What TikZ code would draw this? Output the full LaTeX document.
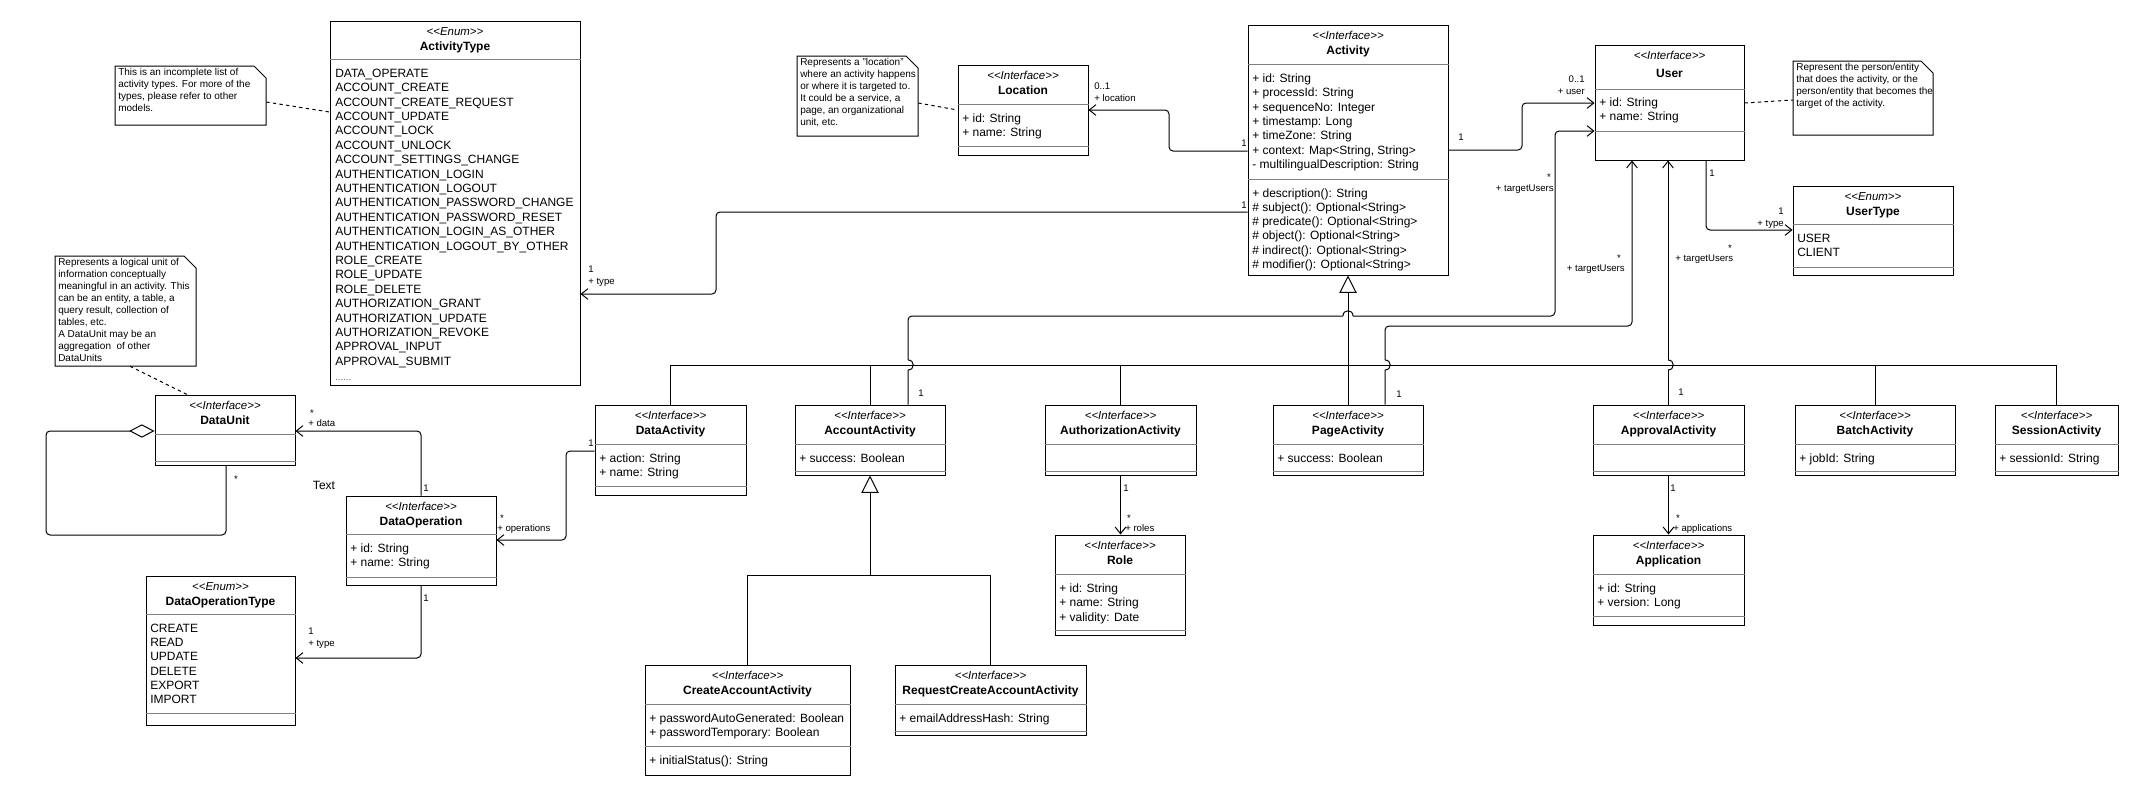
\documentclass[tikz,border=0pt]{standalone}
\usepackage{fontspec}
\setmainfont{Liberation Sans}
\usetikzlibrary{arrows.meta,fit}
\tikzset{
  box/.style={draw, line width=0.75pt, inner sep=0pt},
  sepl/.style={draw=black!50, line width=0.75pt},
  st/.style={font=\fontsize{8.6}{10}\selectfont\itshape, inner sep=0pt, anchor=base},
  nm/.style={font=\fontsize{9}{11}\selectfont\bfseries, inner sep=0pt, anchor=base},
  it/.style={font=\fontsize{9}{11}\selectfont, inner sep=0pt},
  nt/.style={font=\fontsize{7.5}{9}\selectfont, inner sep=0pt},
  lbl/.style={font=\fontsize{7.2}{8.6}\selectfont, inner sep=0pt},
  conn/.style={line width=0.75pt, rounded corners=3pt},
  arr/.style={-{Straight Barb[length=5pt,width=8pt]}},
  gen/.style={line width=0.75pt, -{Triangle[open,length=13pt,width=13pt]}},
  notelink/.style={line width=0.75pt, dash pattern=on 2.5pt off 2.5pt},
}
\newcommand\umlclsx[8]{%
  \node[box, fit={(#2,#3)(#4,#5)}] (#1) {};
  \node[st] (#1-st) at ({(#2+#4)/2},{#3+14.6}) {<{}<#6>{}>};
  \node[nm] (#1-nm) at ({(#2+#4)/2},{#3+29.3+#8}) {#7};}
\newcommand\umlcls[7]{\umlclsx{#1}{#2}{#3}{#4}{#5}{#6}{#7}{0}}
\newcommand\umlsep[2]{\draw[sepl] (#1.west |- 0,#2) -- (#1.east |- 0,#2);}
\newcommand\umllines[6]{\foreach \itm [count=\kk from 0] in {#6} {\node[#5, anchor=base west] (#1-\kk) at (#2,{#3+#4*\kk}) {\itm};}}
\newcommand\umlnote[5]{%
  \node[inner sep=0pt, fit={(#2,#3)(#4,#5)}] (#1) {};
  \draw[line width=0.75pt, fill=white] (#2,#3) -- ({#4-12},#3) -- (#4,{#3+12}) -- (#4,#5) -- (#2,#5) -- cycle;}
\newcommand\umlvhop[2]{%
  \draw[white, line width=2.5pt] (#1,{#2-5}) -- (#1,{#2+5});
  \draw[line width=0.75pt] (#1,{#2+5}) .. controls ({#1+7},{#2+5}) and ({#1+7},{#2-5}) .. (#1,{#2-5});
  \draw[line width=0.75pt] ({#1-7},#2) -- ({#1+9},#2);}
\newcommand\umlhhop[2]{%
  \draw[white, line width=2.5pt] ({#1-5},#2) -- ({#1+5},#2);
  \draw[line width=0.75pt] ({#1-5},#2) .. controls ({#1-5},{#2-7}) and ({#1+5},{#2-7}) .. ({#1+5},#2);
  \draw[line width=0.75pt] (#1,{#2-9}) -- (#1,{#2+7});}
\begin{document}
\begin{tikzpicture}[x=0.75pt,y=-0.75pt]
\fill[white] (0,0) rectangle (2139,796);
\useasboundingbox (0,0) rectangle (2139,796);

% ---------- notes ----------
\umlnote{noteA}{115}{66}{266}{125}
\umllines{noteA}{118}{75.6}{12}{nt}{This is an incomplete list of, activity types. For more of the, {types, please refer to other}, models.}
\umlnote{noteD}{55}{256}{196}{366}
\umllines{noteD}{58}{265.6}{12}{nt}{Represents a logical unit of, information conceptually, meaningful in an activity. This, {can be an entity, a table, a}, {query result, collection of}, {tables, etc.}, A DataUnit may be an, aggregation\ \ of other, DataUnits}
\umlnote{noteL}{797}{56}{918}{136}
\umllines{noteL}{800}{65.6}{12}{nt}{Represents a "location", where an activity happens, or where it is targeted to., {It could be a service, a}, {page, an organizational}, {unit, etc.}}
\umlnote{noteU}{1793}{61}{1933}{135}
\umllines{noteU}{1796}{70.6}{12}{nt}{Represent the person/entity, {that does the activity, or the}, person/entity that becomes the, target of the activity.}

% ---------- classes ----------
\umlcls{ActivityType}{330}{21}{580}{385}{Enum}{ActivityType}
\umlsep{ActivityType}{59}
\umllines{ActivityType}{335}{77.3}{14.4}{it}{DATA\_OPERATE, ACCOUNT\_CREATE, ACCOUNT\_CREATE\_REQUEST, ACCOUNT\_UPDATE, ACCOUNT\_LOCK, ACCOUNT\_UNLOCK, ACCOUNT\_SETTINGS\_CHANGE, AUTHENTICATION\_LOGIN, AUTHENTICATION\_LOGOUT, AUTHENTICATION\_PASSWORD\_CHANGE, AUTHENTICATION\_PASSWORD\_RESET, AUTHENTICATION\_LOGIN\_AS\_OTHER, AUTHENTICATION\_LOGOUT\_BY\_OTHER, ROLE\_CREATE, ROLE\_UPDATE, ROLE\_DELETE, AUTHORIZATION\_GRANT, AUTHORIZATION\_UPDATE, AUTHORIZATION\_REVOKE, APPROVAL\_INPUT, APPROVAL\_SUBMIT}
\node[lbl, anchor=base west, text=black!60] (ActivityType-more) at (335,380) {......};

\umlcls{Location}{958}{65}{1088}{155}{Interface}{Location}
\umlsep{Location}{104}\umlsep{Location}{146}
\umllines{Location}{962}{122.3}{14.4}{it}{+ id: String, + name: String}

\umlcls{Activity}{1248}{25}{1448}{275}{Interface}{Activity}
\umlsep{Activity}{64}\umlsep{Activity}{179}
\umllines{Activity}{1252}{82.3}{14.4}{it}{+ id: String, + processId: String, + sequenceNo: Integer, + timestamp: Long, + timeZone: String, {+ context: Map<String, String>}, - multilingualDescription: String}
\umllines{ActivityM}{1252}{197}{14.3}{it}{+ description(): String, \# subject(): Optional<String>, \# predicate(): Optional<String>, \# object(): Optional<String>, \# indirect(): Optional<String>, \# modifier(): Optional<String>}

\umlclsx{User}{1595}{45}{1744}{160}{Interface}{User}{3.5}
\umlsep{User}{89}\umlsep{User}{131}
\umllines{User}{1599}{106.3}{14.4}{it}{+ id: String, + name: String}

\umlcls{UserType}{1793}{186}{1953}{275}{Enum}{UserType}
\umlsep{UserType}{224}\umlsep{UserType}{267}
\umllines{UserType}{1797}{242.3}{14.4}{it}{USER, CLIENT}

\umlcls{DataUnit}{155}{395}{295}{465}{Interface}{DataUnit}
\umlsep{DataUnit}{434}\umlsep{DataUnit}{461}

\umlcls{DataOperation}{346}{496}{496}{585}{Interface}{DataOperation}
\umlsep{DataOperation}{534}\umlsep{DataOperation}{577}
\umllines{DataOperation}{350}{552.3}{14.4}{it}{+ id: String, + name: String}

\umlcls{DataOperationType}{146}{576}{295}{725}{Enum}{DataOperationType}
\umlsep{DataOperationType}{614}\umlsep{DataOperationType}{713}
\umllines{DataOperationType}{150}{632.3}{14.3}{it}{CREATE, READ, UPDATE, DELETE, EXPORT, IMPORT}

\umlcls{DataActivity}{595}{405}{746}{495}{Interface}{DataActivity}
\umlsep{DataActivity}{444}\umlsep{DataActivity}{486}
\umllines{DataActivity}{599}{462.3}{14.4}{it}{+ action: String, + name: String}

\umlcls{AccountActivity}{795}{405}{945}{475}{Interface}{AccountActivity}
\umlsep{AccountActivity}{444}\umlsep{AccountActivity}{471}
\umllines{AccountActivity}{799}{462.3}{14.4}{it}{+ success: Boolean}

\umlcls{AuthorizationActivity}{1045}{405}{1196}{475}{Interface}{AuthorizationActivity}
\umlsep{AuthorizationActivity}{444}\umlsep{AuthorizationActivity}{471}

\umlcls{PageActivity}{1273}{405}{1423}{475}{Interface}{PageActivity}
\umlsep{PageActivity}{444}\umlsep{PageActivity}{471}
\umllines{PageActivity}{1277}{462.3}{14.4}{it}{+ success: Boolean}

\umlcls{ApprovalActivity}{1593}{405}{1744}{475}{Interface}{ApprovalActivity}
\umlsep{ApprovalActivity}{444}\umlsep{ApprovalActivity}{471}

\umlcls{BatchActivity}{1795}{405}{1955}{475}{Interface}{BatchActivity}
\umlsep{BatchActivity}{444}\umlsep{BatchActivity}{471}
\umllines{BatchActivity}{1799}{462.3}{14.4}{it}{+ jobId: String}

\umlcls{SessionActivity}{1995}{405}{2118}{475}{Interface}{SessionActivity}
\umlsep{SessionActivity}{444}\umlsep{SessionActivity}{471}
\umllines{SessionActivity}{1999}{462.3}{14.4}{it}{+ sessionId: String}

\umlcls{Role}{1055}{535}{1185}{635}{Interface}{Role}
\umlsep{Role}{574}\umlsep{Role}{630}
\umllines{Role}{1059}{592.3}{14.4}{it}{+ id: String, + name: String, + validity: Date}

\umlcls{Application}{1593}{535}{1744}{625}{Interface}{Application}
\umlsep{Application}{574}\umlsep{Application}{616}
\umllines{Application}{1597}{592.3}{14.4}{it}{+ id: String, + version: Long}

\umlcls{CreateAccountActivity}{645}{665}{850}{775}{Interface}{CreateAccountActivity}
\umlsep{CreateAccountActivity}{704}\umlsep{CreateAccountActivity}{746}
\umllines{CreateAccountActivity}{649}{722.3}{14.4}{it}{+ passwordAutoGenerated: Boolean, + passwordTemporary: Boolean}
\umllines{CreateAccountActivityM}{649}{764.3}{14.4}{it}{+ initialStatus(): String}

\umlcls{RequestCreateAccountActivity}{895}{665}{1086}{735}{Interface}{RequestCreateAccountActivity}
\umlsep{RequestCreateAccountActivity}{704}\umlsep{RequestCreateAccountActivity}{731}
\umllines{RequestCreateAccountActivity}{899}{722.3}{14.4}{it}{+ emailAddressHash: String}

% ---------- note links ----------
\draw[notelink] (noteA.east |- 0,102) -- (ActivityType.west |- 0,112);
\draw[notelink] (noteL.east |- 0,103) -- (Location.west |- 0,110);
\draw[notelink] (User.east |- 0,103) -- (noteU.west |- 0,100);
\draw[notelink] (noteD.south -| 130,0) -- (DataUnit.north -| 187,0);

% ---------- generalizations ----------
\draw[gen] (PageActivity.north) -- (Activity.south);
\draw[line width=0.75pt] (DataActivity.north) -- (DataActivity.north |- 0,365) -- (SessionActivity.north |- 0,365) -- (SessionActivity.north);
\draw[line width=0.75pt] (AccountActivity.north) -- (AccountActivity.north |- 0,365);
\draw[line width=0.75pt] (AuthorizationActivity.north) -- (AuthorizationActivity.north |- 0,365);
\draw[line width=0.75pt] (BatchActivity.north) -- (BatchActivity.north |- 0,365);
\draw[gen] (CreateAccountActivity.north) -- (CreateAccountActivity.north |- 0,575) -- (AccountActivity.south |- 0,575) -- (AccountActivity.south);
\draw[line width=0.75pt] (RequestCreateAccountActivity.north) -- (RequestCreateAccountActivity.north |- 0,575) -- (AccountActivity.south |- 0,575);

% ---------- associations ----------
\draw[conn,arr] (Activity.west |- 0,212) -- (716,212) -- (716,294) -- (ActivityType.east |- 0,294);
\draw[conn,arr] (Activity.west |- 0,151) -- (1169,151) -- (1169,110) -- (Location.east |- 0,110);
\draw[conn,arr] (Activity.east |- 0,150) -- (1522,150) -- (1522,103) -- (User.west |- 0,103);
\draw[conn,arr] (AccountActivity.north -| 908,0) -- (908,316) -- (1555,316) -- (1555,131) -- (User.west |- 0,131);
\draw[conn,arr] (PageActivity.north -| 1385,0) -- (1385,326) -- (1632,326) -- (User.south -| 1632,0);
\draw[conn,arr] (ApprovalActivity.north -| 1668,0) -- (User.south -| 1668,0);
\draw[conn,arr] (User.south -| 1706,0) -- (1706,230) -- (UserType.west |- 0,230);
\draw[conn,arr] (AuthorizationActivity.south) -- (Role.north -| AuthorizationActivity.south);
\draw[conn,arr] (ApprovalActivity.south) -- (Application.north -| ApprovalActivity.south);
\draw[conn,arr] (DataActivity.west |- 0,451) -- (566,451) -- (566,540) -- (DataOperation.east |- 0,540);
\draw[conn,arr] (DataOperation.north) -- (DataOperation.north |- 0,431) -- (DataUnit.east |- 0,431);
\draw[conn,arr] (DataOperation.south) -- (DataOperation.south |- 0,658) -- (DataOperationType.east |- 0,658);
\draw[conn,{Diamond[fill=white,length=19pt,width=10pt]}-] (DataUnit.west |- 0,431) -- (46,431) -- (46,535) -- (226,535) -- (DataUnit.south -| 226,0);

% ---------- hops ----------
\umlvhop{908}{365}
\umlhhop{1348}{316}
\umlvhop{1385}{365}
\umlvhop{1668}{365}

% ---------- labels ----------
\node[lbl, anchor=base east] (lab1) at (1247,208) {1};
\node[lbl, anchor=base west] (lab2) at (588,272.4) {1};
\node[lbl, anchor=base west] (lab3) at (588,284.4) {+ type};
\node[lbl, anchor=base east] (lab4) at (1247,146.4) {1};
\node[lbl, anchor=base west] (lab5) at (1094,89.4) {0..1};
\node[lbl, anchor=base west] (lab6) at (1094,101.4) {+ location};
\node[lbl, anchor=base west] (lab7) at (1458,140.4) {1};
\node[lbl, anchor=base east] (lab8) at (1585,82.4) {0..1};
\node[lbl, anchor=base east] (lab9) at (1585,94.4) {+ user};
\node[lbl, anchor=base] (lab10) at (1549,180) {*};
\node[lbl, anchor=base east] (lab11) at (1554,191.4) {+ targetUsers};
\node[lbl, anchor=base west] (lab12) at (918,396.4) {1};
\node[lbl, anchor=base west] (lab13) at (1396,397.4) {1};
\node[lbl, anchor=base] (lab14) at (1619,261) {*};
\node[lbl, anchor=base east] (lab15) at (1625,271.4) {+ targetUsers};
\node[lbl, anchor=base west] (lab16) at (1678,395.4) {1};
\node[lbl, anchor=base] (lab17) at (1730,251) {*};
\node[lbl, anchor=base west] (lab18) at (1675,261.4) {+ targetUsers};
\node[lbl, anchor=base west] (lab19) at (1709,176.4) {1};
\node[lbl, anchor=base east] (lab20) at (1784,214.4) {1};
\node[lbl, anchor=base east] (lab21) at (1784,226.4) {+ type};
\node[lbl, anchor=base west] (lab22) at (1123,491.4) {1};
\node[lbl, anchor=base] (lab23) at (1129,521) {*};
\node[lbl, anchor=base west] (lab24) at (1125,531.4) {+ roles};
\node[lbl, anchor=base west] (lab25) at (1670,491.4) {1};
\node[lbl, anchor=base] (lab26) at (1678,521) {*};
\node[lbl, anchor=base west] (lab27) at (1673,531.4) {+ applications};
\node[lbl, anchor=base east] (lab28) at (594,446.4) {1};
\node[lbl, anchor=base] (lab29) at (502,521) {*};
\node[lbl, anchor=base west] (lab30) at (497,531.4) {+ operations};
\node[lbl, anchor=base] (lab31) at (312,416) {*};
\node[lbl, anchor=base west] (lab32) at (308,426.4) {+ data};
\node[lbl, anchor=base west] (lab33) at (423,491.4) {1};
\node[lbl, anchor=base west] (lab34) at (423,601.4) {1};
\node[lbl, anchor=base west] (lab35) at (308,634.4) {1};
\node[lbl, anchor=base west] (lab36) at (308,646.4) {+ type};
\node[lbl, anchor=base] (lab37) at (236,482) {*};
\node[it, anchor=base] (txt) at (324,489) {Text};
\end{tikzpicture}
\end{document}
